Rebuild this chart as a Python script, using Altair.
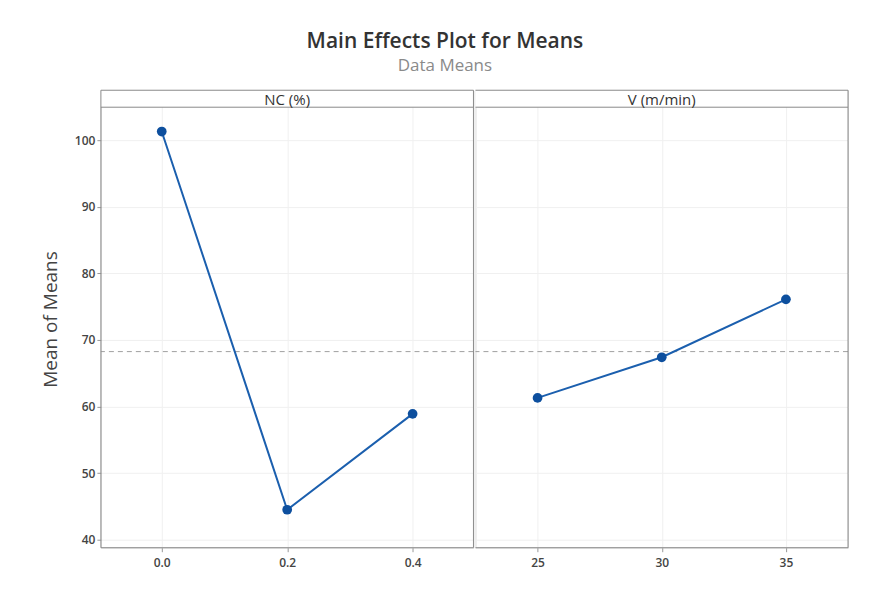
import altair as alt
import pandas as pd

# ---- data ----
nc_levels = [0.0, 0.2, 0.4]
nc_means = [101.3, 44.5, 58.9]
v_levels = [25, 30, 35]
v_means = [61.3, 67.4, 76.1]
grand_mean = 68.25
y_ticks = [40, 50, 60, 70, 80, 90, 100]

FONT = "Open Sans"
BLUE = "#1b5fae"
DOT = "#0d4f9e"
FRAME = "#8a8a8a"
W, H, HDR = 373, 458, 17
Y_DOMAIN = [38.8, 107.5]


def panel(levels, means, label, xdomain, xfmt, show_y):
    df = pd.DataFrame({"level": levels, "mean": means})
    xenc = alt.X(
        "level:Q",
        scale=alt.Scale(domain=xdomain, nice=False, zero=False),
        axis=alt.Axis(values=levels, format=xfmt, title=None, labelFontSize=12,
                      labelColor="#444", labelFont=FONT, labelFontWeight=600,
                      tickColor="#999", domain=False, gridColor="#f0f0f0",
                      labelPadding=6, tickSize=4),
    )
    if show_y:
        yaxis = alt.Axis(values=y_ticks, title="Mean of Means", titleFontSize=19,
                         titleFont=FONT, titleColor="#444", titleFontWeight="normal",
                         labelFontSize=12, labelColor="#444", labelFont=FONT,
                         labelFontWeight=600, tickColor="#999", domain=False,
                         gridColor="#f0f0f0", titlePadding=14, tickSize=4)
    else:
        yaxis = alt.Axis(values=y_ticks, title=None, labels=False, ticks=False,
                         domain=False, gridColor="#f0f0f0")
    yenc = alt.Y("mean:Q", scale=alt.Scale(domain=Y_DOMAIN, nice=False, zero=False),
                 axis=yaxis)
    line = alt.Chart(df).mark_line(color=BLUE, strokeWidth=2).encode(x=xenc, y=yenc)
    pts = alt.Chart(df).mark_circle(color=DOT, size=95, opacity=1).encode(x="level:Q", y="mean:Q")
    ref = alt.Chart(pd.DataFrame({"m": [grand_mean]})).mark_rule(
        color="#a0a0a0", strokeDash=[5, 4], strokeWidth=1
    ).encode(y="m:Q")
    hdf = pd.DataFrame({"label": [label]})
    hdr = alt.Chart(hdf).mark_rect(fill="white", strokeWidth=0).encode(
        x=alt.value(0), x2=alt.value(W), y=alt.value(0), y2=alt.value(HDR)
    )
    hline = alt.Chart(hdf).mark_rule(color=FRAME, strokeWidth=1).encode(
        x=alt.value(0), x2=alt.value(W), y=alt.value(HDR)
    )
    htxt = alt.Chart(hdf).mark_text(font=FONT, fontSize=15, color="#333", baseline="middle",
                                    align="center").encode(
        x=alt.value(W / 2), y=alt.value(HDR / 2 + 1), text="label:N"
    )
    top = alt.Chart(hdf).mark_rule(color=FRAME).encode(x=alt.value(0), x2=alt.value(W), y=alt.value(0))
    bot = alt.Chart(hdf).mark_rule(color=FRAME).encode(x=alt.value(0), x2=alt.value(W), y=alt.value(H))
    right = alt.Chart(hdf).mark_rule(color=FRAME).encode(x=alt.value(W), y=alt.value(0), y2=alt.value(H))
    layers = [ref, line, pts, hdr, hline, htxt, top, bot, right]
    if show_y:
        left = alt.Chart(hdf).mark_rule(color=FRAME).encode(x=alt.value(0), y=alt.value(0), y2=alt.value(H))
        layers.append(left)
    return alt.layer(*layers).properties(width=W, height=H)


p1 = panel(nc_levels, nc_means, "NC (%)", [-0.097, 0.497], ".1f", True)
p2 = panel(v_levels, v_means, "V (m/min)", [22.5, 37.5], "d", False)

chart = alt.hconcat(p1, p2, spacing=0).properties(
    title=alt.TitleParams(
        "Main Effects Plot for Means",
        subtitle="Data Means",
        font=FONT, fontSize=21, fontWeight=600, color="#333",
        subtitleFont=FONT, subtitleFontSize=17, subtitleColor="#8a8a8a",
        subtitleFontWeight="normal",
        anchor="middle", offset=15, subtitlePadding=6,
    ),
    padding={"left": 32, "top": 23, "right": 20, "bottom": 10},
).configure_view(stroke=None).configure(background="white")

chart.save("out.html", embed_options={"renderer": "svg", "actions": False})
